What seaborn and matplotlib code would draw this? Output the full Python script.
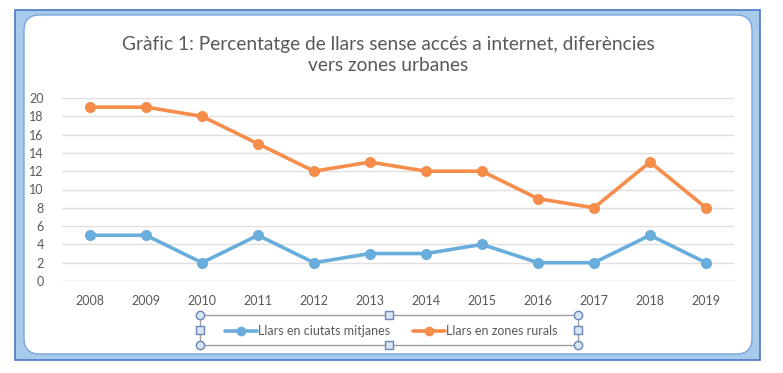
import matplotlib
matplotlib.use("Agg")
import matplotlib.pyplot as plt
import seaborn as sns
import pandas as pd
from matplotlib.patches import FancyBboxPatch, Rectangle
from matplotlib.lines import Line2D

years = ["2008", "2009", "2010", "2011", "2012", "2013", "2014", "2015", "2016", "2017", "2018", "2019"]
urban = [5, 5, 2, 5, 2, 3, 3, 4, 2, 2, 5, 2]
rural = [19, 19, 18, 15, 12, 13, 12, 12, 9, 8, 13, 8]
series_names = ["Llars en ciutats mitjanes", "Llars en zones rurals"]
colors = ["#68ADDC", "#F68D4B"]
title = "Gràfic 1: Percentatge de llars sense accés a internet, diferències\nvers zones urbanes"

df = pd.DataFrame({
    "year": years * 2,
    "x": list(range(len(years))) * 2,
    "value": urban + rural,
    "series": [series_names[0]] * len(years) + [series_names[1]] * len(years),
})

sns.set_theme(style="white")
plt.rcParams["font.family"] = ["Lato", "DejaVu Sans"]

W, H = 783, 373
fig = plt.figure(figsize=(W / 100, H / 100), dpi=100)

def fx(px):
    return px / W

def fy(py):
    return 1 - py / H

# frame
fig.patches.append(Rectangle((fx(15), fy(360)), fx(760) - fx(15), fy(10) - fy(360),
                             transform=fig.transFigure, facecolor="#A8CBEC",
                             edgecolor="#4A78C8", linewidth=1.2, zorder=0))
fig.patches.append(FancyBboxPatch((fx(24), fy(354)), fx(752) - fx(24), fy(15) - fy(354),
                                  boxstyle="round,pad=0,rounding_size=0.02",
                                  transform=fig.transFigure, facecolor="white",
                                  edgecolor="#7AA6DD", linewidth=1.0, zorder=0,
                                  mutation_aspect=W / H))

ax = fig.add_axes([fx(62), fy(281), fx(734) - fx(62), fy(98) - fy(281)])
ax.set_zorder(3)
ax.set_facecolor("none")
sns.lineplot(data=df, x="x", y="value", hue="series", palette=colors, marker="o",
             markersize=8, markeredgewidth=0, linewidth=2.6, ax=ax, legend=False)

ax.set_xlim(-0.5, len(years) - 0.5)
ax.set_ylim(0, 20)
ax.set_yticks(range(0, 21, 2))
ax.set_xticks(range(len(years)))
ax.set_xticklabels(years)
ax.tick_params(axis="both", labelsize=9, colors="#595959", length=0)
ax.tick_params(axis="x", pad=10)
ax.tick_params(axis="y", pad=13)
ax.grid(axis="y", color="#E0E0E0", linewidth=1.0)
ax.set_axisbelow(True)
for s in ax.spines.values():
    s.set_visible(False)
ax.axhline(0, color="#D9D9D9", linewidth=1.0, zorder=0)
ax.set_xlabel("")
ax.set_ylabel("")

fig.text(fx(388), fy(55), title, ha="center", va="center", fontsize=13.8,
         color="#595959", linespacing=1.25, zorder=3)

# legend box with selection handles
lx0, lx1, ly0, ly1 = 200, 578, 315, 345
for (xa, xb, ya, yb) in [(lx0, lx1, ly0, ly0), (lx0, lx1, ly1, ly1), (lx0, lx0, ly0, ly1), (lx1, lx1, ly0, ly1)]:
    fig.lines.append(Line2D([fx(xa), fx(xb)], [fy(ya), fy(yb)], transform=fig.transFigure,
                            color="#A0A0A0", lw=1, zorder=3))
for (hx, hy, kind) in [(lx0, ly0, "c"), (lx1, ly0, "c"), (lx0, ly1, "c"), (lx1, ly1, "c"),
                       (389, ly0, "s"), (389, ly1, "s"), (lx0, 330, "s"), (lx1, 330, "s")]:
    fig.lines.append(Line2D([fx(hx)], [fy(hy)], transform=fig.transFigure,
                            marker="o" if kind == "c" else "s", markersize=6,
                            markerfacecolor="#D8E4F2", markeredgecolor="#6A86B8", mew=1, zorder=4))

items = [(225, series_names[0], colors[0]), (413, series_names[1], colors[1])]
for x0, name, c in items:
    fig.lines.append(Line2D([fx(x0), fx(x0 + 32)], [fy(331), fy(331)], transform=fig.transFigure,
                            color=c, lw=2.6, zorder=3))
    fig.lines.append(Line2D([fx(x0 + 16)], [fy(331)], transform=fig.transFigure,
                            marker="o", markersize=7, color=c, mew=0, zorder=3))
    fig.text(fx(x0 + 33), fy(331), name, ha="left", va="center", fontsize=9, color="#595959", zorder=3)

fig.savefig("out.png", dpi=100)
